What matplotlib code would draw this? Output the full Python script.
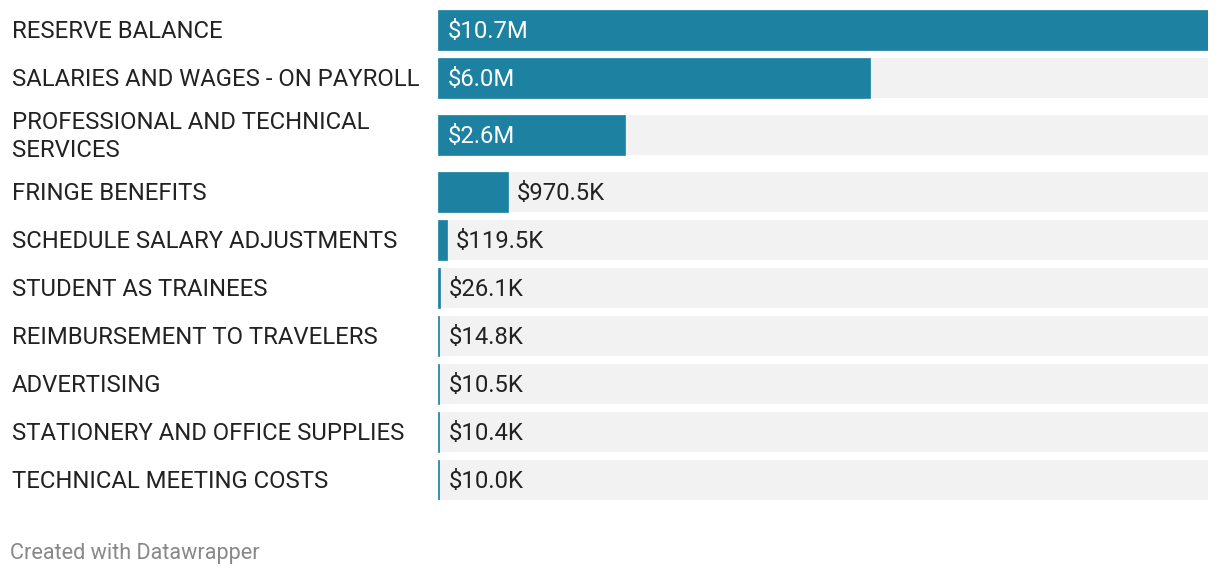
import matplotlib.pyplot as plt
import numpy as np

# data
categories = [
    "RESERVE BALANCE",
    "SALARIES AND WAGES - ON PAYROLL",
    "PROFESSIONAL AND TECHNICAL\nSERVICES",
    "FRINGE BENEFITS",
    "SCHEDULE SALARY ADJUSTMENTS",
    "STUDENT AS TRAINEES",
    "REIMBURSEMENT TO TRAVELERS",
    "ADVERTISING",
    "STATIONERY AND OFFICE SUPPLIES",
    "TECHNICAL MEETING COSTS",
]
values = [10.7e6, 6.0e6, 2.6e6, 970.5e3, 119.5e3, 26.1e3, 14.8e3, 10.5e3, 10.4e3, 10.0e3]
value_labels = ["$10.7M", "$6.0M", "$2.6M", "$970.5K", "$119.5K",
                "$26.1K", "$14.8K", "$10.5K", "$10.4K", "$10.0K"]

BLUE = '#1d81a2'
GRAY = '#f2f2f2'
TEXT = '#222222'
FS = 17.2

plt.rcParams['font.family'] = ['Roboto', 'DejaVu Sans']

W, H = 1220, 576
fig = plt.figure(figsize=(W / 100, H / 100), dpi=100)

# row centres in pixels (two-line label gets extra room)
centres = []
y = 30
for i, cat in enumerate(categories):
    if i > 0:
        y += 48
        if "\n" in cat or "\n" in categories[i - 1]:
            y += 9
    centres.append(y)
centres = np.array(centres)

x0, x1 = 438, 1208
top, bottom = 10, 500
ax = fig.add_axes([x0 / W, 1 - bottom / H, (x1 - x0) / W, (bottom - top) / H])
xmax = max(values)
ax.set_xlim(0, xmax)
ax.set_ylim(bottom, top)
ax.axis('off')

bar_h = 40
ax.barh(centres, [xmax] * len(values), height=bar_h, color=GRAY, linewidth=0)
ax.barh(centres, values, height=bar_h, color=BLUE, edgecolor=BLUE, linewidth=0.5)

px = xmax / (x1 - x0)  # data units per pixel
dy = 1.5  # small downward nudge for text
for c, v, lab in zip(centres, values, value_labels):
    if v / px > 110:
        ax.text(10 * px, c + dy, lab, color='white', fontsize=FS, va='center', ha='left')
    else:
        ax.text(max(v, 2 * px) + 9 * px, c + dy, lab, color=TEXT, fontsize=FS,
                va='center', ha='left')

# category labels
for c, cat in zip(centres, categories):
    fig.text(12 / W, 1 - (c + dy) / H, cat, color=TEXT, fontsize=FS, va='center',
             ha='left', linespacing=1.3)

fig.text(10 / W, 1 - 553 / H, "Created with Datawrapper", color='#888888',
         fontsize=15.6, va='center', ha='left')

fig.savefig('out.png', dpi=100, facecolor='white')
